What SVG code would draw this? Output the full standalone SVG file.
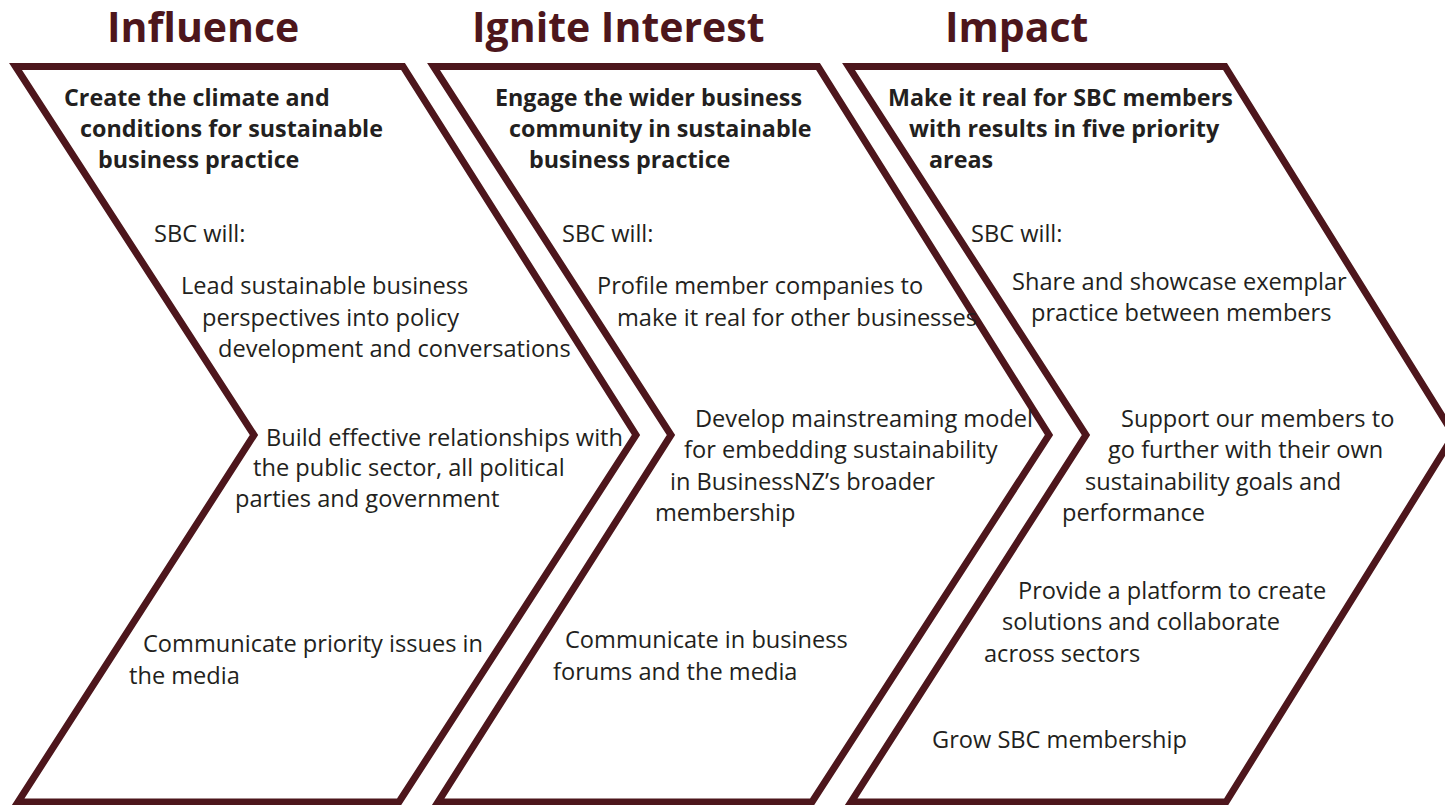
<svg xmlns="http://www.w3.org/2000/svg" width="1445" height="805" viewBox="0 0 1445 805">
<style>
.chev{fill:#ffffff;stroke:#4d161c;stroke-width:7;stroke-linejoin:miter;stroke-miterlimit:10}
.title{font-family:"Open Sans","Liberation Sans",sans-serif;font-weight:bold;font-size:41px;fill:#4d161c}
.sub{font-family:"Open Sans","Liberation Sans",sans-serif;font-weight:bold;font-size:23.3px;fill:#231f20}
.body{font-family:"Open Sans","Liberation Sans",sans-serif;font-size:23.6px;fill:#231f20}
</style>
<rect width="1445" height="805" fill="#ffffff"/>
<g id="connectors"></g>
<g id="influence">
<polygon class="chev" points="15.5,66.5 403,66.5 636,435 399,802 18,802 254,435"/>
<text class="title" x="107" y="42">Influence</text>
<text class="sub" x="64" y="106">Create the climate and</text>
<text class="sub" x="80" y="137">conditions for sustainable</text>
<text class="sub" x="98" y="168">business practice</text>
<text class="body" x="154" y="242">SBC will:</text>
<text class="body" x="181" y="294">Lead sustainable business</text>
<text class="body" x="202" y="326">perspectives into policy</text>
<text class="body" x="218" y="357">development and conversations</text>
<text class="body" x="266" y="446">Build effective relationships with</text>
<text class="body" x="253" y="476">the public sector, all political</text>
<text class="body" x="235" y="507">parties and government</text>
<text class="body" x="143" y="652">Communicate priority issues in</text>
<text class="body" x="129" y="684">the media</text>
</g>
<g id="ignite">
<polygon class="chev" points="433.5,66.5 818,66.5 1049,435 812,802 438,802 671,435"/>
<text class="title" x="472" y="42">Ignite Interest</text>
<text class="sub" x="495" y="106">Engage the wider business</text>
<text class="sub" x="509" y="137">community in sustainable</text>
<text class="sub" x="529" y="168">business practice</text>
<text class="body" x="562" y="242">SBC will:</text>
<text class="body" x="597" y="294">Profile member companies to</text>
<text class="body" x="617" y="326">make it real for other businesses</text>
<text class="body" x="695" y="427">Develop mainstreaming model</text>
<text class="body" x="684" y="458">for embedding sustainability</text>
<text class="body" x="670" y="490">in BusinessNZ’s broader</text>
<text class="body" x="655" y="521">membership</text>
<text class="body" x="565" y="648">Communicate in business</text>
<text class="body" x="553" y="680">forums and the media</text>
</g>
<g id="impact">
<polygon class="chev" points="848.5,66.5 1225,66.5 1454,435 1226,802 851,802 1086,435"/>
<text class="title" x="945" y="42">Impact</text>
<text class="sub" x="888" y="106">Make it real for SBC members</text>
<text class="sub" x="909" y="137">with results in five priority</text>
<text class="sub" x="929" y="168">areas</text>
<text class="body" x="971" y="242">SBC will:</text>
<text class="body" x="1012" y="290">Share and showcase exemplar</text>
<text class="body" x="1031" y="321">practice between members</text>
<text class="body" x="1121" y="427">Support our members to</text>
<text class="body" x="1108" y="458">go further with their own</text>
<text class="body" x="1085" y="490">sustainability goals and</text>
<text class="body" x="1062" y="521">performance</text>
<text class="body" x="1018" y="599">Provide a platform to create</text>
<text class="body" x="1002" y="630">solutions and collaborate</text>
<text class="body" x="984" y="662">across sectors</text>
<text class="body" x="932" y="748">Grow SBC membership</text>
</g>
</svg>
